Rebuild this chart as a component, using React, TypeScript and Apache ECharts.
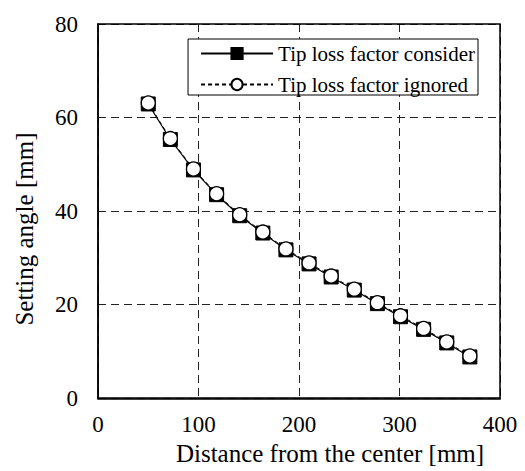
import React, { useEffect, useRef } from "react";
import * as echarts from "echarts";

const distance = [50, 72, 95, 118, 141, 164, 187, 210, 232, 255, 278, 301, 324, 347, 370];
const angleConsidered = [62.9, 55.3, 48.8, 43.5, 39.0, 35.3, 31.7, 28.7, 25.9, 23.1, 20.2, 17.4, 14.7, 11.8, 8.8];
const angleIgnored = [63.1, 55.5, 49.0, 43.7, 39.2, 35.5, 31.9, 28.9, 26.1, 23.3, 20.4, 17.6, 14.9, 12.0, 9.0];
const seriesNames = ["Tip loss factor consider", "Tip loss factor ignored"];

const FONT = "Liberation Serif";

export default function App() {
  const ref = useRef<HTMLDivElement>(null);
  useEffect(() => {
    document.body.style.margin = "0";
    if (!ref.current) return;
    const chart = echarts.init(ref.current, null, { renderer: "svg" });
    const gridLine = { show: true, lineStyle: { color: "#222", type: [8, 5], width: 1 } };
    chart.setOption({
      animation: false,
      backgroundColor: "#fff",
      textStyle: { fontFamily: FONT, color: "#000" },
      grid: { left: 98, right: 25, top: 24, bottom: 72, containLabel: false },
      legend: {
        right: 47,
        top: 39,
        orient: "vertical",
        backgroundColor: "#fff",
        borderColor: "#000",
        borderWidth: 1,
        borderRadius: 0,
        padding: [4, 3, 0, 12],
        itemWidth: 72,
        itemHeight: 14,
        itemGap: 10,
        textStyle: { fontFamily: FONT, fontSize: 21, color: "#000" },
        data: seriesNames,
      },
      xAxis: {
        type: "value",
        min: 0,
        max: 400,
        interval: 100,
        name: "Distance from the center [mm]",
        nameLocation: "middle",
        nameGap: 38,
        nameTextStyle: { fontFamily: FONT, fontSize: 25, color: "#000", padding: [0, 0, 0, 62] },
        axisLine: { show: true, onZero: false, lineStyle: { color: "#000", width: 1.5 } },
        axisTick: { show: false },
        axisLabel: { fontFamily: FONT, fontSize: 23, color: "#000", margin: 15 },
        splitLine: gridLine,
      },
      yAxis: {
        type: "value",
        min: 0,
        max: 80,
        interval: 20,
        name: "Setting angle [mm]",
        nameLocation: "middle",
        nameGap: 61,
        nameRotate: 90,
        nameTextStyle: { fontFamily: FONT, fontSize: 25, color: "#000", padding: [0, 36, 0, 0] },
        axisLine: { show: true, onZero: false, lineStyle: { color: "#000", width: 1.5 } },
        axisTick: { show: false },
        axisLabel: { fontFamily: FONT, fontSize: 23, color: "#000", margin: 20 },
        splitLine: gridLine,
      },
      graphic: [
        {
          type: "rect",
          shape: { x: 98, y: 24, width: 402, height: 375 },
          style: { fill: "none", stroke: "#000", lineWidth: 1.5 },
          silent: true,
          z: 100,
        },
      ],
      series: [
        {
          name: seriesNames[0],
          type: "line",
          data: distance.map((d, i) => [d, angleConsidered[i]]),
          symbol: "rect",
          symbolSize: 14,
          lineStyle: { color: "#000", width: 1.2, type: "solid" },
          itemStyle: { color: "#000", borderColor: "#000", borderWidth: 1 },
          z: 3,
        },
        {
          name: seriesNames[1],
          type: "line",
          data: distance.map((d, i) => [d, angleIgnored[i]]),
          symbol: "circle",
          symbolSize: 14,
          showAllSymbol: true,
          lineStyle: { color: "#000", width: 1, type: [4, 3] },
          itemStyle: { color: "#fff", borderColor: "#000", borderWidth: 1.3 },
          z: 4,
        },
      ],
    });
    return () => chart.dispose();
  }, []);
  return <div ref={ref} style={{ width: 525, height: 471 }} />;
}
